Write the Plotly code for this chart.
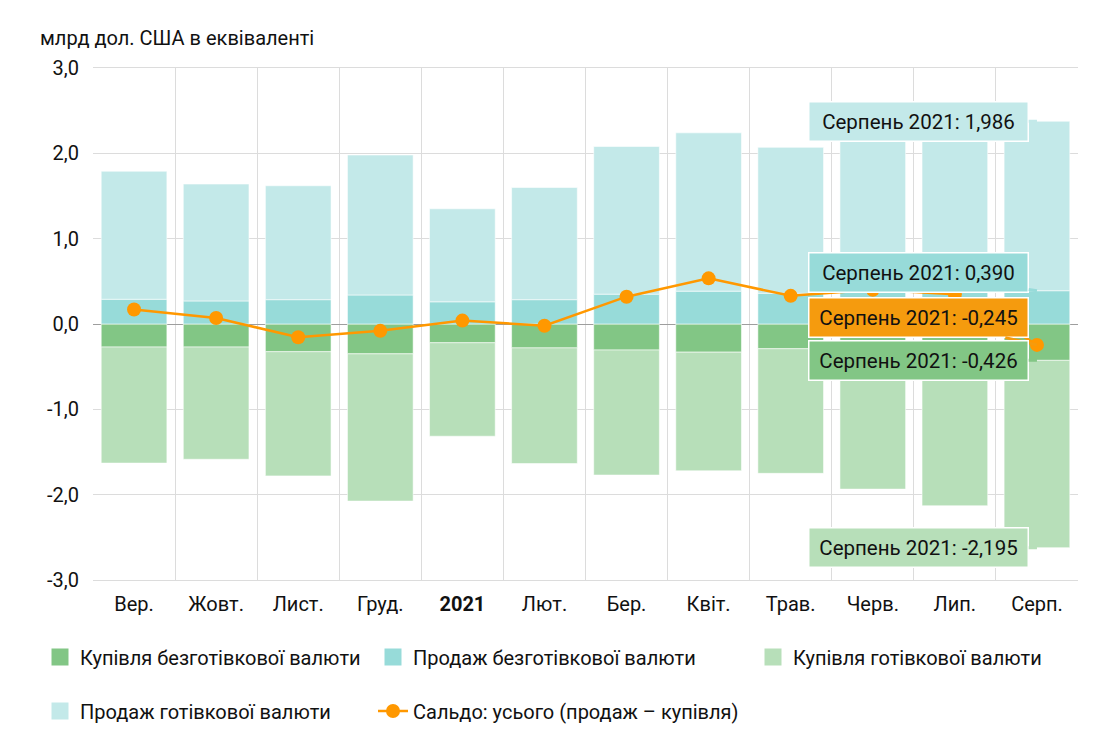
import plotly.graph_objects as go

# ---- data (млрд дол. США) ----
months = ['Вер.', 'Жовт.', 'Лист.', 'Груд.', '2021', 'Лют.', 'Бер.', 'Квіт.', 'Трав.', 'Черв.', 'Лип.', 'Серп.']
month_ticktext = ['Вер.', 'Жовт.', 'Лист.', 'Груд.', '<b>2021</b>', 'Лют.', 'Бер.', 'Квіт.', 'Трав.', 'Черв.', 'Лип.', 'Серп.']

sell_noncash = [0.29, 0.27, 0.285, 0.34, 0.26, 0.285, 0.35, 0.385, 0.36, 0.38, 0.37, 0.390]
sell_cash = [1.50, 1.37, 1.335, 1.64, 1.09, 1.315, 1.73, 1.855, 1.71, 1.955, 2.11, 1.986]
buy_noncash = [-0.27, -0.27, -0.325, -0.35, -0.22, -0.28, -0.305, -0.33, -0.29, -0.33, -0.36, -0.426]
buy_cash = [-1.36, -1.315, -1.455, -1.725, -1.095, -1.355, -1.465, -1.39, -1.46, -1.605, -1.77, -2.195]
saldo = [0.17, 0.07, -0.155, -0.08, 0.04, -0.02, 0.32, 0.535, 0.33, 0.40, 0.35, -0.245]

y_tickvals = [3, 2, 1, 0, -1, -2, -3]
y_ticktext = ['3,0', '2,0', '1,0', '0,0', '-1,0', '-2,0', '-3,0']

names = ['Купівля безготівкової валюти', 'Продаж безготівкової валюти',
         'Купівля готівкової валюти', 'Продаж готівкової валюти',
         'Сальдо: усього (продаж – купівля)']

C_BNC = '#82c685'
C_SNC = '#97dbd9'
C_BC = '#b7dfb9'
C_SC = '#c3e9e9'
C_LINE = '#ff9800'
C_TIP_ORANGE = '#f59b0e'

FONT = 'Roboto'
EDGE = 'rgba(255,255,255,0.55)'

fig = go.Figure()
bar_series = [(buy_noncash, C_BNC), (sell_noncash, C_SNC), (buy_cash, C_BC), (sell_cash, C_SC)]
for vals, col in bar_series:
    fig.add_trace(go.Bar(x=months, y=vals, marker_color=col,
                         marker_line=dict(width=1, color=EDGE), showlegend=False))

fig.add_trace(go.Scatter(x=months, y=saldo, name=names[4], mode='lines+markers',
                         line=dict(color=C_LINE, width=2.5),
                         marker=dict(color=C_LINE, size=14), legend='legend5'))

# legend-only entries (no data) with bigger swatches
legend_ids = ['legend', 'legend2', 'legend3', 'legend4']
for (vals, col), nm, lg in zip(bar_series, names[:4], legend_ids):
    fig.add_trace(go.Bar(x=[None], y=[None], name=nm, marker_color=col,
                         marker_line=dict(width=5, color=col), legend=lg, showlegend=True))

# ---- tooltips for the last month ----
last = months[-1]
pos_total = sell_noncash[-1] + sell_cash[-1]
neg_total = buy_noncash[-1] + buy_cash[-1]

def fmt(v):
    return f'{v:.3f}'.replace('.', ',')

tips = [
    (pos_total, sell_cash[-1], C_SC, 0),
    (sell_noncash[-1], sell_noncash[-1], C_SNC, -18),
    (saldo[-1], saldo[-1], C_TIP_ORANGE, -27),
    (buy_noncash[-1], buy_noncash[-1], C_BNC, 0),
    (neg_total, buy_cash[-1], C_BC, 0),
]
annotations = []
for yv, val, col, ay in tips:
    annotations.append(dict(
        x=last, y=yv, xref='x', yref='y',
        text=f'Серпень 2021: {fmt(val)}',
        showarrow=True, arrowhead=0, arrowwidth=3, arrowcolor=col,
        ax=-118, ay=ay, axref='pixel', ayref='pixel', standoff=0,
        bgcolor=col, bordercolor='white', borderwidth=1.5, borderpad=2,
        width=214, height=34, align='center',
        font=dict(family=FONT, size=20.5, color='#111'),
    ))

annotations.append(dict(
    x=-0.0555, y=1.0586, xref='paper', yref='paper', xanchor='left', yanchor='middle',
    text='млрд дол. США в еквіваленті', showarrow=False,
    font=dict(family=FONT, size=20, color='#111'),
))

legend_common = dict(orientation='h', xref='container', yref='container',
                     xanchor='left', yanchor='middle', bgcolor='rgba(0,0,0,0)',
                     font=dict(family=FONT, size=20, color='#111'))

fig.update_layout(
    width=1102, height=734,
    margin=dict(l=93, r=24, t=68, b=154, autoexpand=False),
    paper_bgcolor='white', plot_bgcolor='white',
    barmode='relative', bargap=0.2,
    font=dict(family=FONT, size=20, color='#111'),
    showlegend=True,
    legend=dict(x=40 / 1102, y=1 - 657 / 734, **legend_common),
    legend2=dict(x=373 / 1102, y=1 - 657 / 734, **legend_common),
    legend3=dict(x=753 / 1102, y=1 - 657 / 734, **legend_common),
    legend4=dict(x=40 / 1102, y=1 - 711 / 734, **legend_common),
    legend5=dict(x=373 / 1102, y=1 - 711 / 734, **legend_common),
    annotations=annotations,
    hovermode=False,
)

fig.update_xaxes(
    type='category', tickson='boundaries', range=[-0.5, len(months) - 0.5],
    tickvals=months, ticktext=month_ticktext,
    showgrid=True, gridcolor='#dcdcdc', gridwidth=1,
    showline=True, linecolor='#dcdcdc', mirror=True,
    ticks='', ticklabelstandoff=6,
    tickfont=dict(family=FONT, size=20, color='#111'),
)
fig.update_yaxes(
    range=[-3, 3], tickvals=y_tickvals, ticktext=y_ticktext,
    showgrid=True, gridcolor='#dcdcdc', gridwidth=1,
    zeroline=True, zerolinecolor='#9e9e9e', zerolinewidth=1,
    showline=False, ticks='', ticklabelstandoff=13,
    tickfont=dict(family=FONT, size=20, color='#111'),
)

fig.write_html('out.html', config={'displayModeBar': False},
               post_script="document.body.style.margin='0';")
